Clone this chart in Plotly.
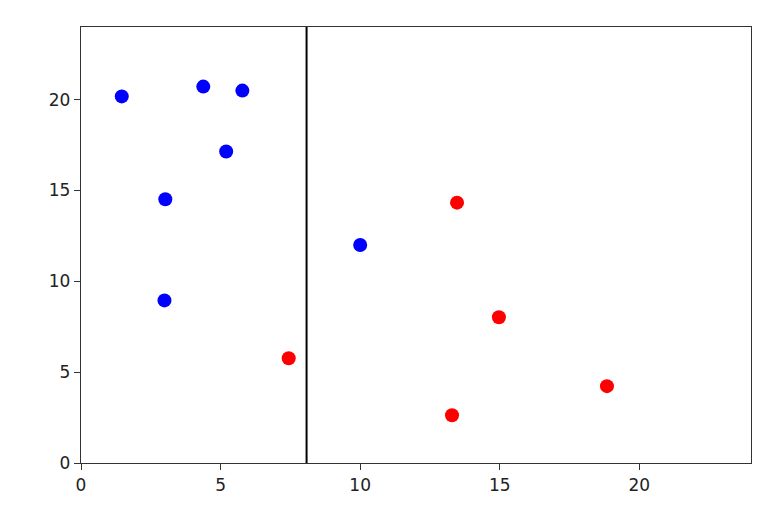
import plotly.graph_objects as go

blue_x = [1.46, 4.38, 5.78, 5.20, 3.02, 2.99, 10.0]
blue_y = [20.18, 20.72, 20.50, 17.15, 14.52, 8.95, 12.0]
red_x = [7.44, 13.47, 14.97, 18.84, 13.29]
red_y = [5.77, 14.33, 8.02, 4.23, 2.63]
split_x = 8.08
x_ticks = [0, 5, 10, 15, 20]
y_ticks = [0, 5, 10, 15, 20]

fig = go.Figure()
fig.add_trace(go.Scatter(x=blue_x, y=blue_y, mode="markers",
                         marker=dict(color="blue", size=14), showlegend=False))
fig.add_trace(go.Scatter(x=red_x, y=red_y, mode="markers",
                         marker=dict(color="red", size=14), showlegend=False))
fig.add_shape(type="line", x0=split_x, x1=split_x, y0=0, y1=1, xref="x", yref="paper",
              line=dict(color="black", width=2))

axis_common = dict(showgrid=False, zeroline=False, showline=True, mirror=True,
                   linecolor="#333333", linewidth=1.3, ticks="outside", ticklen=6,
                   tickcolor="#333333", tickwidth=1.2,
                   tickfont=dict(family="DejaVu Sans", size=17, color="#222222"))
fig.update_xaxes(range=[0, 24], tickvals=x_ticks, ticktext=[str(v) for v in x_ticks], **axis_common)
fig.update_yaxes(range=[0, 24], tickvals=y_ticks, ticktext=[str(v) for v in y_ticks], **axis_common)
fig.update_layout(width=774, height=516, margin=dict(l=73, r=31, t=19, b=61),
                  plot_bgcolor="white", paper_bgcolor="white")
fig.write_html("out.html")
